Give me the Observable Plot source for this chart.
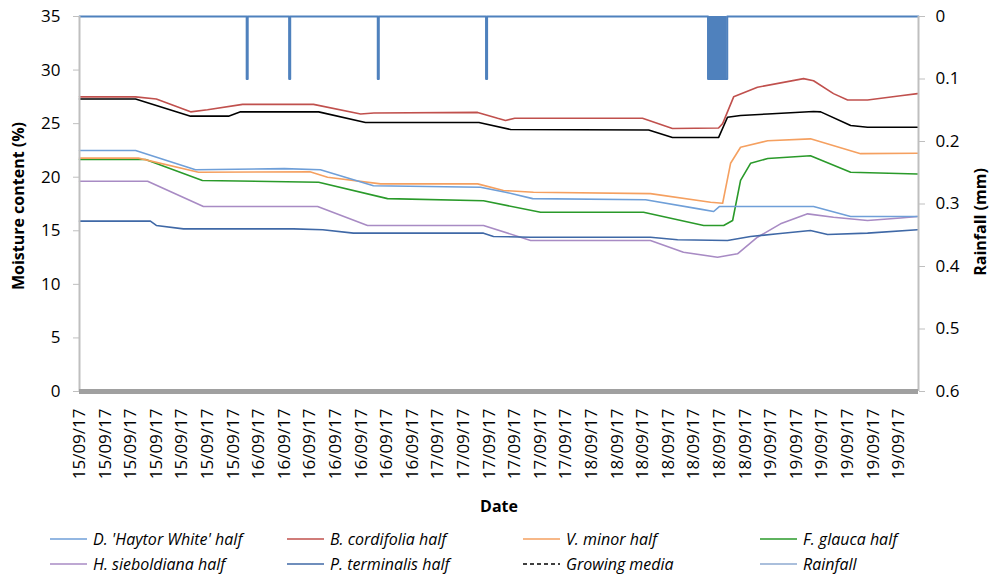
<!DOCTYPE html>
<html>
<head>
<meta charset="utf-8">
<script src="https://cdn.jsdelivr.net/npm/d3@7"></script>
<script src="https://cdn.jsdelivr.net/npm/@observablehq/plot@0.6"></script>
<style>
  body { margin: 0; background: #fff; font-family: "Open Sans", sans-serif; }
  #wrap { position: relative; width: 993px; height: 577px; overflow: hidden; }
  .leg { position: absolute; font-style: italic; font-size: 16px; white-space: nowrap; line-height: 20px; color: #000; }
  .leg svg { position: absolute; left: 0; top: 0; }
</style>
</head>
<body>
<div id="wrap"><div id="chart"></div><div id="legend"></div></div>
<script>
// ---- category tick labels (x axis) ----
const dateLabels = [
  "15/09/17","15/09/17","15/09/17","15/09/17","15/09/17","15/09/17","15/09/17",
  "16/09/17","16/09/17","16/09/17","16/09/17","16/09/17","16/09/17","16/09/17",
  "17/09/17","17/09/17","17/09/17","17/09/17","17/09/17","17/09/17",
  "18/09/17","18/09/17","18/09/17","18/09/17","18/09/17","18/09/17","18/09/17",
  "19/09/17","19/09/17","19/09/17","19/09/17","19/09/17","19/09/17"
];
const xEnd = 32.77;               // axis extent in label-interval units
const moistTicks = [0, 5, 10, 15, 20, 25, 30, 35];
const rainTicks = [0, 0.1, 0.2, 0.3, 0.4, 0.5, 0.6];
const rainTickLabels = ["0", "0.1", "0.2", "0.3", "0.4", "0.5", "0.6"];

// ---- series: [position (label intervals), moisture %] ----
const haytorWhite = [[0,22.5],[2.19,22.5],[4.53,20.7],[8.0,20.8],[9.41,20.7],[11.48,19.2],[15.66,19.07],[16.64,18.6],[17.70,18.0],[22.11,17.9],[24.3,17.0],[24.77,16.8],[25.0,17.27],[28.67,17.27],[30.12,16.33],[32.73,16.33]];
const cordifolia = [[0,27.5],[2.19,27.5],[3.0,27.3],[4.34,26.1],[5.0,26.3],[6.37,26.8],[9.14,26.8],[10.98,25.9],[11.5,26.0],[15.55,26.05],[16.33,25.5],[16.64,25.3],[17.0,25.5],[21.99,25.5],[23.16,24.55],[24.96,24.6],[25.12,25.0],[25.55,27.5],[26.48,28.4],[28.28,29.2],[28.67,29.0],[29.45,27.8],[30.0,27.2],[30.78,27.2],[32.07,27.6],[32.73,27.8]];
const vMinor = [[0,21.78],[2.30,21.78],[4.65,20.47],[9.0,20.5],[9.69,20.0],[11.76,19.38],[15.55,19.38],[16.56,18.76],[17.73,18.6],[22.30,18.47],[24.65,17.67],[25.12,17.57],[25.43,21.3],[25.82,22.8],[26.88,23.4],[28.55,23.58],[30.51,22.2],[32.73,22.24]];
const fGlauca = [[0,21.65],[2.58,21.65],[4.80,19.7],[9.34,19.53],[12.03,18.0],[15.78,17.8],[18.01,16.73],[22.03,16.73],[24.38,15.5],[25.16,15.5],[25.51,15.96],[25.82,19.7],[26.21,21.3],[26.88,21.75],[28.55,22.0],[30.12,20.47],[32.73,20.3]];
const hSieboldiana = [[0,19.63],[2.66,19.63],[4.84,17.27],[9.30,17.27],[11.25,15.5],[15.78,15.5],[17.62,14.1],[22.30,14.1],[23.59,13.0],[24.92,12.53],[25.70,12.85],[26.48,14.4],[27.38,15.65],[28.44,16.58],[29.45,16.27],[30.78,15.96],[32.07,16.2],[32.73,16.33]];
const pTerminalis = [[0,15.9],[2.77,15.9],[3.0,15.5],[4.06,15.18],[8.36,15.18],[9.5,15.1],[10.70,14.78],[15.78,14.78],[16.17,14.47],[17.62,14.4],[22.30,14.4],[23.36,14.16],[25.31,14.1],[26.21,14.47],[27.27,14.72],[28.55,15.03],[29.22,14.65],[30.78,14.78],[32.73,15.09]];
const growingMedia = [[0,27.3],[2.19,27.3],[4.34,25.7],[5.82,25.7],[6.29,26.1],[9.34,26.1],[11.17,25.1],[15.6,25.1],[16.84,24.45],[22.23,24.4],[23.16,23.7],[24.96,23.7],[25.31,25.6],[25.82,25.76],[26.88,25.9],[28.67,26.13],[28.95,26.1],[30.12,24.83],[30.78,24.67],[32.73,24.67]];

// ---- rainfall (mm), step series ----
const rainT  = [0, 6.53, 6.57, 8.19, 8.23, 11.65, 11.69, 15.88, 15.92, 24.55, 25.30, 32.77];
const rainMm = [0, 0.1,  0,    0.1,  0,    0.1,   0,     0.1,   0,     0.1,   0,     0];

const colors = {
  haytor: "#6f9fd8", cord: "#c0504d", minor: "#f5a060", glauca: "#2a9a2a",
  sieb: "#a88bc4", term: "#3f68a6", media: "#000000", rain: "#4f81bd"
};

const rainToMoist = mm => 35 - mm * 35 / 0.6;
const rain = rainT.map((t, i) => ({t, mm: rainMm[i]}));
const toRows = arr => arr.map(([t, v]) => ({t, v}));

const seriesList = [
  {data: hSieboldiana, color: colors.sieb},
  {data: pTerminalis, color: colors.term},
  {data: fGlauca, color: colors.glauca},
  {data: vMinor, color: colors.minor},
  {data: haytorWhite, color: colors.haytor},
  {data: cordifolia, color: colors.cord},
  {data: growingMedia, color: colors.media}
];

const chart = Plot.plot({
  width: 993,
  height: 527,
  marginLeft: 79,
  marginRight: 75,
  marginTop: 16,
  marginBottom: 136,
  x: {domain: [0, xEnd]},
  y: {domain: [0, 35]},
  style: {fontFamily: "Open Sans, sans-serif", background: "#fff", color: "#000", overflow: "visible"},
  marks: [
    // rainfall (secondary, inverted axis)
    Plot.areaY(rain, {x: "t", y1: () => 35, y2: d => rainToMoist(d.mm), curve: "step-after", fill: colors.rain}),
    Plot.line(rain, {x: "t", y: d => rainToMoist(d.mm), curve: "step-after", stroke: colors.rain, strokeWidth: 2}),
    // moisture series
    ...seriesList.map(s => Plot.line(toRows(s.data), {x: "t", y: "v", stroke: s.color, strokeWidth: 1.6})),
    // axis lines
    Plot.ruleX([0], {y1: 0, y2: 35, stroke: "#bfbfbf", strokeWidth: 2}),
    Plot.ruleX([xEnd], {y1: 0, y2: 35, stroke: "#bfbfbf", strokeWidth: 2}),
    Plot.ruleY([0], {stroke: "#a0a0a0", strokeWidth: 5}),
    // axes
    Plot.axisY({ticks: moistTicks, tickSize: 6, tickPadding: 13, stroke: "#bfbfbf", fontSize: 17, label: null}),
    Plot.axisY(rainTicks.map(rainToMoist), {anchor: "right", tickSize: 6, tickPadding: 11, stroke: "#bfbfbf", fontSize: 17,
      tickFormat: (d, i) => rainTickLabels[i], label: null}),
    Plot.axisX({ticks: d3.range(dateLabels.length), tickFormat: i => dateLabels[i], tickRotate: -90, tickSize: 0, tickPadding: 17, fontSize: 17, label: null}),
    // axis titles
    Plot.text(["Moisture content (%)"], {frameAnchor: "left", dx: -61, dy: 2, rotate: -90, textAnchor: "middle", fontSize: 16, fontWeight: "bold"}),
    Plot.text(["Rainfall (mm)"], {frameAnchor: "right", dx: 62, dy: 18, rotate: -90, textAnchor: "middle", fontSize: 16, fontWeight: "bold"}),
    Plot.text(["Date"], {frameAnchor: "bottom", dy: 120, fontSize: 16, fontWeight: "bold"})
  ]
});
document.getElementById("chart").appendChild(chart);

// ---- legend (HTML, below the SVG) ----
const legendItems = [
  {label: "D. 'Haytor White' half", color: colors.haytor, x: 50, y: 529},
  {label: "B. cordifolia half", color: colors.cord, x: 287, y: 529},
  {label: "V. minor half", color: colors.minor, x: 523, y: 529},
  {label: "F. glauca half", color: colors.glauca, x: 760, y: 529},
  {label: "H. sieboldiana half", color: colors.sieb, x: 50, y: 554},
  {label: "P. terminalis half", color: colors.term, x: 287, y: 554},
  {label: "Growing media", color: "#000", x: 523, y: 554, dash: "4,3"},
  {label: "Rainfall", color: "#8eaad0", x: 760, y: 554}
];
const legend = document.getElementById("legend");
for (const it of legendItems) {
  const d = document.createElement("div");
  d.className = "leg";
  d.style.left = it.x + "px";
  d.style.top = it.y + "px";
  d.style.paddingLeft = "43px";
  d.innerHTML = `<svg width="40" height="20"><line x1="0" x2="37" y1="10" y2="10" stroke="${it.color}" stroke-width="1.6" ${it.dash ? `stroke-dasharray="${it.dash}"` : ""}/></svg>${it.label}`;
  legend.appendChild(d);
}
</script>
</body>
</html>
